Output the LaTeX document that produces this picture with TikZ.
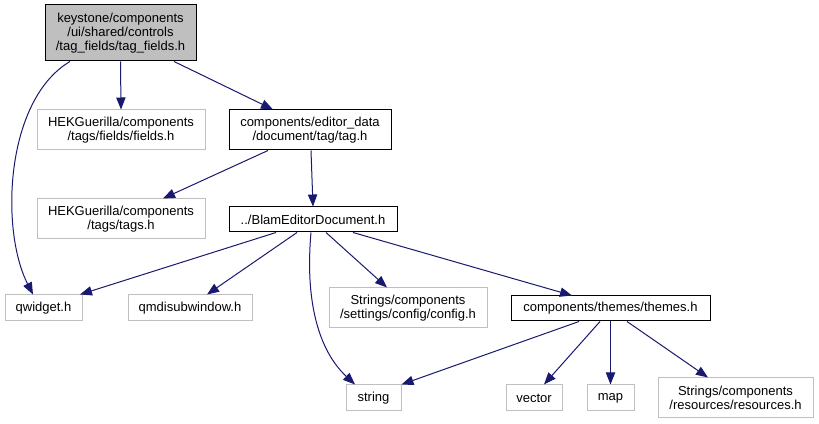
\documentclass[tikz,border=0pt]{standalone}
\usepackage{fontspec}
\setmainfont{Liberation Sans}
\usetikzlibrary{arrows.meta,calc}
\definecolor{edgeblue}{HTML}{191970}
\definecolor{boxgray}{HTML}{BFBFBF}
\begin{document}
\begin{tikzpicture}[x=0.75pt,y=-0.75pt,
  base/.style={rectangle,inner sep=0pt,align=center,font=\fontsize{9.75pt}{10.5pt}\selectfont,line width=0.75pt},
  gbox/.style={base,draw=boxgray,fill=white},
  bbox/.style={base,draw=black,fill=white},
  topbox/.style={base,draw=black,fill=boxgray},
  dep/.style={draw=edgeblue,line width=0.75pt,-{Triangle[length=9pt,width=7pt]}}]
\useasboundingbox[fill=white] (0,0) rectangle (819,424);
\node[topbox,minimum width=151*0.75pt,minimum height=56*0.75pt] (top) at (120.5,33) {keystone/components\\/ui/shared/controls\\/tag\_fields/tag\_fields.h};
\node[gbox,minimum width=168*0.75pt,minimum height=40*0.75pt] (fields) at (121,130) {HEKGuerilla/components\\/tags/fields/fields.h};
\node[bbox,minimum width=162*0.75pt,minimum height=40*0.75pt] (tag) at (310,130) {components/editor\_data\\/document/tag/tag.h};
\node[gbox,minimum width=168*0.75pt,minimum height=40*0.75pt] (tags) at (121,219) {HEKGuerilla/components\\/tags/tags.h};
\node[bbox,minimum width=168*0.75pt,minimum height=25*0.75pt] (blam) at (313,219.5) {../BlamEditorDocument.h};
\node[gbox,minimum width=77*0.75pt,minimum height=26*0.75pt] (qwidget) at (43.5,308) {qwidget.h};
\node[gbox,minimum width=124*0.75pt,minimum height=26*0.75pt] (qmdi) at (190,308) {qmdisubwindow.h};
\node[gbox,minimum width=158*0.75pt,minimum height=40*0.75pt] (config) at (408,308) {Strings/components\\/settings/config/config.h};
\node[bbox,minimum width=199*0.75pt,minimum height=25*0.75pt] (themes) at (610.5,308.5) {components/themes/themes.h};
\node[gbox,minimum width=55*0.75pt,minimum height=26*0.75pt] (string) at (373.5,398) {string};
\node[gbox,minimum width=56*0.75pt,minimum height=26*0.75pt] (vector) at (534,398) {vector};
\node[gbox,minimum width=47*0.75pt,minimum height=26*0.75pt] (map) at (610.5,398) {map};
\node[gbox,minimum width=155*0.75pt,minimum height=40*0.75pt] (resources) at (735.5,398) {Strings/components\\/resources/resources.h};

\draw[dep] ($(top.south)+(-50.5,0)$) .. controls (5,100) and (0,230) .. ($(qwidget.north)+(-10.5,0)$);
\draw[dep] (top.south) -- (fields.north);
\draw[dep] ($(top.south)+(53.5,0)$) -- ($(tag.north)+(-37,0)$);
\draw[dep] ($(tag.south)+(-42,0)$) -- ($(tags.north)+(42,0)$);
\draw[dep] ($(tag.south)+(1,0)$) -- (blam.north);
\draw[dep] ($(blam.south)+(-37,0)$) -- ($(qwidget.north)+(36.5,0)$);
\draw[dep] ($(blam.south)+(-16,0)$) -- ($(qmdi.north)+(17,0)$);
\draw[dep] ($(blam.south)+(-2,0)$) .. controls (305,300) and (318,350) .. ($(string.north)+(-18.5,0)$);
\draw[dep] ($(blam.south)+(13,0)$) -- ($(config.north)+(-21,0)$);
\draw[dep] ($(blam.south)+(40,0)$) -- ($(themes.north)+(-38.5,0)$);
\draw[dep] ($(themes.south)+(-31.5,0)$) -- (string.north east);
\draw[dep] ($(themes.south)+(-10.5,0)$) -- ($(vector.north)+(10,0)$);
\draw[dep] (themes.south) -- (map.north);
\draw[dep] ($(themes.south)+(16.5,0)$) -- ($(resources.north)+(-27.5,0)$);
\end{tikzpicture}
\end{document}
